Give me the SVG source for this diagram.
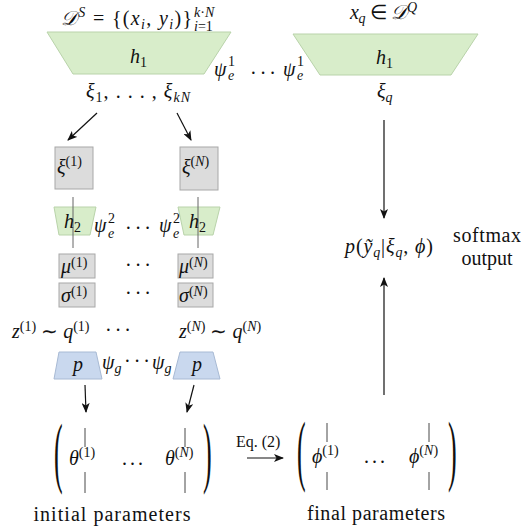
<svg xmlns="http://www.w3.org/2000/svg" width="521" height="531" viewBox="0 0 521 531" font-family="'Liberation Serif', serif">
<defs>
<style>
text{font-family:"Liberation Serif",serif;font-size:20px;fill:#111}
.i{font-style:italic}
.n{font-style:normal}
.s{font-size:14px}
.g{fill:#d8edca;stroke:#b9d3aa;stroke-width:1}
.b{fill:#c9d8ee;stroke:#a8bad4;stroke-width:1}
.box{fill:#dcdcdc;stroke:#a8a8a8;stroke-width:1}
.ln{stroke:#111;stroke-width:1.2;fill:none}
.th{stroke:#666;stroke-width:1;fill:none}
.tk{stroke:#333;stroke-width:0.9;fill:none}
.dots{letter-spacing:3px}
.par{font-size:26px}
</style>
<marker id="ah" viewBox="0 0 10 8" refX="9" refY="4" markerWidth="10" markerHeight="8" markerUnits="userSpaceOnUse" orient="auto">
<path d="M0,0 L10,4 L0,8 L2.5,4 z" fill="#111"/>
</marker>
</defs>
<rect width="521" height="531" fill="#fff"/>

<g id="support-set">
<text x="61" y="25" class="i" textLength="131">𝒟<tspan class="s" dy="-8">S</tspan><tspan dy="8" class="n"> = {(</tspan>x<tspan class="s" dy="4">i</tspan><tspan dy="-4" class="n">, </tspan>y<tspan class="s" dy="4">i</tspan><tspan dy="-4" class="n">)}</tspan></text>
<text x="194" y="17" class="s i">k<tspan class="n">·</tspan>N</text>
<text x="194" y="31" class="s"><tspan class="i">i</tspan>=1</text>
</g>

<g id="query-input">
<text x="350" y="19" class="i" textLength="67">x<tspan class="s" dy="4">q</tspan><tspan dy="-4" class="n"> ∈ </tspan>𝒟<tspan class="s" dy="-7">Q</tspan></text>
</g>

<g id="h1-support">
<polygon class="g" points="47,32 231,32 204,74 73,74"/>
<text x="130" y="63" class="i">h<tspan class="s n" dy="4">1</tspan></text>
</g>

<g id="h1-query">
<polygon class="g" points="293,34 478,34 451,75 320,75"/>
<text x="376" y="64" class="i">h<tspan class="s n" dy="4">1</tspan></text>
</g>

<g id="shared-weights-1">
<text x="214" y="76" class="i">ψ</text>
<text x="228" y="66" class="s">1</text>
<text x="228" y="80" class="s i">e</text>
<text x="250" y="80" class="dots">···</text>
<text x="283" y="76" class="i">ψ</text>
<text x="297" y="66" class="s">1</text>
<text x="297" y="80" class="s i">e</text>
</g>

<g id="xi-support">
<text x="86" y="98" class="i" textLength="104">ξ<tspan class="s n" dy="4">1</tspan><tspan dy="-4" class="n">, . . . , </tspan>ξ<tspan class="s" dy="4">kN</tspan></text>
</g>

<g id="xi-query">
<text x="377" y="98" class="i">ξ<tspan class="s" dy="4">q</tspan></text>
</g>

<g id="xi-1">
<rect class="box" x="55" y="147" width="38" height="42"/>
<text x="57" y="174" class="i">ξ<tspan class="s n" dy="-8">(1)</tspan></text>
</g>
<g id="xi-N">
<rect class="box" x="180" y="147" width="38" height="43"/>
<text x="182" y="174" class="i">ξ<tspan class="s n" dy="-8">(<tspan class="i">N</tspan>)</tspan></text>
</g>

<g id="h2-1">
<polygon class="g" points="54,207 96,207 90,235 59,235"/>
<line class="th" x1="73" y1="197" x2="73" y2="248"/>
<text x="64" y="228" class="i">h<tspan class="s n" dy="4">2</tspan></text>
</g>
<g id="h2-N">
<polygon class="g" points="178,207 220,207 213,235 184,235"/>
<line class="th" x1="198" y1="197" x2="198" y2="248"/>
<text x="189" y="228" class="i">h<tspan class="s n" dy="4">2</tspan></text>
</g>

<g id="shared-weights-2">
<text x="94" y="232" class="i">ψ</text>
<text x="108" y="223" class="s">2</text>
<text x="108" y="238" class="s i">e</text>
<text x="125" y="235" class="dots">···</text>
<text x="159" y="232" class="i">ψ</text>
<text x="173" y="223" class="s">2</text>
<text x="173" y="238" class="s i">e</text>
</g>

<g id="mu-1">
<rect class="box" x="59" y="254" width="36" height="24"/>
<text x="61" y="273" class="i">μ<tspan class="s n" dy="-6">(1)</tspan></text>
</g>
<g id="sigma-1">
<rect class="box" x="59" y="283" width="36" height="24"/>
<text x="61" y="302" class="i">σ<tspan class="s n" dy="-6">(1)</tspan></text>
</g>
<g id="mu-N">
<rect class="box" x="178" y="254" width="35" height="24"/>
<text x="179" y="273" class="i">μ<tspan class="s n" dy="-6">(<tspan class="i">N</tspan>)</tspan></text>
</g>
<g id="sigma-N">
<rect class="box" x="178" y="283" width="35" height="24"/>
<text x="179" y="302" class="i">σ<tspan class="s n" dy="-6">(<tspan class="i">N</tspan>)</tspan></text>
</g>
<g id="stat-dots">
<text x="125" y="272" class="dots">···</text>
<text x="125" y="300" class="dots">···</text>
</g>

<g id="z-samples">
<text x="12" y="338" class="i">z<tspan class="s n" dy="-7">(1)</tspan><tspan dy="7" class="n"> ∼ </tspan>q<tspan class="s n" dy="-7">(1)</tspan></text>
<text x="105" y="337" class="dots">···</text>
<text x="179" y="338" class="i">z<tspan class="s n" dy="-7">(<tspan class="i">N</tspan>)</tspan><tspan dy="7" class="n"> ∼ </tspan>q<tspan class="s n" dy="-7">(<tspan class="i">N</tspan>)</tspan></text>
</g>

<g id="p-1">
<polygon class="b" points="59,352 96,352 102,379 54,379"/>
<text x="78" y="371" class="i" text-anchor="middle">p</text>
</g>
<g id="p-N">
<polygon class="b" points="180,352 213,352 220,379 173,379"/>
<text x="197" y="371" class="i" text-anchor="middle">p</text>
</g>
<g id="shared-weights-g">
<text x="102" y="369" class="i">ψ<tspan class="s" dy="4">g</tspan></text>
<text x="124" y="368" class="dots">···</text>
<text x="152" y="369" class="i">ψ<tspan class="s" dy="4">g</tspan></text>
</g>

<g id="initial-parameters">
<text class="par" transform="translate(54,478) scale(1,3)">(</text>
<text class="par" transform="translate(203,478) scale(1,3)">)</text>
<line class="tk" x1="85" y1="428" x2="85" y2="447"/>
<line class="tk" x1="85" y1="472" x2="85" y2="493"/>
<line class="tk" x1="185" y1="428" x2="185" y2="447"/>
<line class="tk" x1="185" y1="472" x2="185" y2="493"/>
<text x="69" y="465" class="i">θ<tspan class="s n" dy="-8">(1)</tspan></text>
<text x="122" y="465" class="dots">...</text>
<text x="165" y="465" class="i">θ<tspan class="s n" dy="-8">(<tspan class="i">N</tspan>)</tspan></text>
<text x="112" y="521" text-anchor="middle" textLength="157">initial parameters</text>
</g>

<g id="final-parameters">
<text class="par" transform="translate(297,476) scale(1,3)">(</text>
<text class="par" transform="translate(448,476) scale(1,3)">)</text>
<line class="tk" x1="327" y1="423" x2="327" y2="442"/>
<line class="tk" x1="327" y1="472" x2="327" y2="490"/>
<line class="tk" x1="429" y1="423" x2="429" y2="442"/>
<line class="tk" x1="429" y1="472" x2="429" y2="490"/>
<text x="312" y="463" class="i">ϕ<tspan class="s n" dy="-8">(1)</tspan></text>
<text x="364" y="463" class="dots">...</text>
<text x="409" y="463" class="i">ϕ<tspan class="s n" dy="-8">(<tspan class="i">N</tspan>)</tspan></text>
<text x="376" y="520" text-anchor="middle" textLength="138">final parameters</text>
</g>

<g id="output">
<text x="345" y="253" class="i" textLength="88">p<tspan class="n">(</tspan>ỹ<tspan class="s" dy="4">q</tspan><tspan dy="-4" class="n">|</tspan>ξ<tspan class="s" dy="4">q</tspan><tspan dy="-4" class="n">, </tspan>ϕ<tspan class="n">)</tspan></text>
<text x="487" y="242" text-anchor="middle" textLength="68">softmax</text>
<text x="487" y="265" text-anchor="middle">output</text>
</g>

<g id="connectors">
<line class="ln" x1="97" y1="113" x2="68" y2="140" marker-end="url(#ah)"/>
<line class="ln" x1="177" y1="113" x2="191" y2="140" marker-end="url(#ah)"/>
<line class="ln" x1="384" y1="120" x2="384" y2="218" marker-end="url(#ah)"/>
<line class="ln" x1="384" y1="395" x2="384" y2="278" marker-end="url(#ah)"/>
<line class="ln" x1="85" y1="385" x2="86" y2="412" marker-end="url(#ah)"/>
<line class="ln" x1="194" y1="385" x2="187" y2="412" marker-end="url(#ah)"/>
<line class="ln" x1="247" y1="458" x2="283" y2="458" marker-end="url(#ah)"/>
<text x="236" y="447" style="font-size:16px">Eq. (2)</text>
</g>
</svg>
